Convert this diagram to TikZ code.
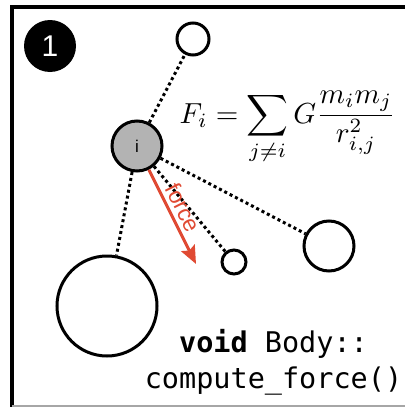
\documentclass[tikz,border=0pt]{standalone}
\usepackage{fix-cm}
\usepackage{fontspec}
\setsansfont{Liberation Sans}
\setmonofont{DejaVu Sans Mono}
\usetikzlibrary{arrows.meta}
\definecolor{forcered}{HTML}{E04A33}
\definecolor{bodygray}{HTML}{B3B3B3}

\begin{document}
\begin{tikzpicture}
    [x=1pt,y=-1pt,
body/.style={circle, draw=black, line width=3pt, fill=white, inner sep=0pt, minimum size=#1},
ibody/.style={body=50pt, fill=bodygray, font=\fontsize{17}{19}\selectfont\sffamily},
badge/.style={circle, fill=black, inner sep=0pt, minimum size=52pt, text=white, font=\fontsize{30}{34}\selectfont\sffamily},
link/.style={line width=3pt, dash pattern=on 3pt off 3pt},
forcearrow/.style={forcered, line width=3pt, -{Stealth[length=18pt,width=15pt,inset=3pt]}}
]

\useasboundingbox (0,0) rectangle (405,407);

% frame
\draw[line width=4pt] (12,407) -- (12,6.7) -- (405,6.7);
\draw[gray!70, line width=1.5pt] (12,406) -- (405,406);

\node[badge](step1) at (50,46){1};

\node[ibody](bi) at (137,146){i};
\node[body=32pt](btop) at (193,39){};
\node[body=50pt](bright) at (329,246){};
\node[body=24pt](bsmall) at (234,262){};
\node[body=100pt](bbig) at (107,306){};

\draw[link] (bi) -- (btop);
\draw[link] (bi) -- (bright);
\draw[link] (bi) -- (bsmall);
\draw[link] (bi) -- (bbig);

\coordinate (ftip) at (196,264);
\draw[forcearrow] (bi) -- (ftip) node[pos=0.47, sloped, above, inner sep=4pt, text=forcered, font=\fontsize{23}{25}\selectfont\sffamily](flabel){force};

\node[anchor=base west, inner sep=0pt, scale=2.9, transform shape](eq) at (179,123)
    {$\displaystyle F_i = \sum_{j\neq i} G\frac{m_i m_j}{r_{i,j}^2}$};

\node[anchor=base, align=center, inner sep=0pt, font=\fontsize{28.5}{36}\selectfont\ttfamily](code) at (273.5,388)
    {\textbf{void} Body::\\compute\_force()};

\end{tikzpicture}
\end{document}
